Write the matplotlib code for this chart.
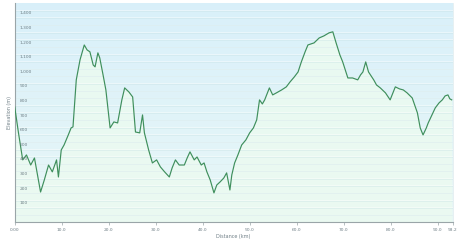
import numpy as np
import matplotlib
matplotlib.use("Agg")
import matplotlib.pyplot as plt
from matplotlib.transforms import blended_transform_factory

# -----------------------------------------------------------------
#   elevation profile (distance km, elevation m)
# -----------------------------------------------------------------
dist = [0.0, 0.8, 1.7, 2.5, 3.4, 4.2, 5.5, 6.3, 7.2, 8.0, 8.9, 9.3, 9.9, 10.5,
        11.4, 12.0, 12.4, 13.1, 13.9, 14.8, 15.4, 16.0, 16.7, 17.1, 17.7, 18.1,
        18.8, 19.4, 20.3, 21.1, 21.9, 22.8, 23.4, 24.3, 25.1, 25.7, 26.6, 27.2,
        27.6, 28.5, 29.3, 30.2, 31.0, 31.9, 32.9, 33.5, 34.2, 35.0, 36.1, 36.7,
        37.3, 38.2, 38.8, 39.7, 40.3, 40.9, 41.6, 42.4, 43.0, 43.7, 44.5, 45.1,
        45.8, 46.2, 46.8, 47.5, 48.3, 49.2, 50.0, 50.8, 51.5, 52.1, 52.7, 53.2,
        54.2, 54.9, 55.7, 56.8, 57.8, 58.6, 59.5, 60.3, 61.0, 61.8, 62.4, 63.7,
        64.8, 65.8, 66.9, 67.7, 68.4, 69.2, 69.8, 70.9, 71.9, 73.0, 73.6, 74.1,
        74.7, 75.3, 76.4, 77.0, 77.8, 78.9, 79.9, 81.0, 81.9, 82.7, 83.5, 84.6,
        85.7, 86.3, 86.9, 87.6, 88.0, 88.8, 89.5, 90.3, 91.0, 91.6, 92.2, 92.6,
        93.0]
elev = [788, 610, 425, 459, 390, 438, 205, 288, 390, 343, 425, 308, 493, 527,
        596, 644, 651, 973, 1110, 1212, 1178, 1165, 1075, 1062, 1158, 1123,
        1007, 904, 644, 685, 678, 836, 918, 890, 856, 616, 610, 733,
        610, 493, 404, 425, 377, 343, 308, 370, 425, 390, 390, 438,
        480, 425, 445, 390, 404, 343, 288, 199, 253, 274, 301, 336,
        219, 322, 404, 459, 527, 562, 610, 644, 699, 836, 808, 836,
        918, 870, 884, 904, 925, 959, 993, 1027, 1096, 1165, 1212, 1226,
        1260, 1274, 1295, 1302, 1226, 1144, 1096, 986, 986, 973, 1007, 1027,
        1096, 1027, 973, 938, 918, 884, 836, 925, 911, 904, 884, 849,
        747, 644, 596, 644, 678, 733, 781, 815, 836, 863, 870, 843,
        836]

y_ticks = [100, 200, 300, 400, 500, 600, 700, 800, 900, 1000, 1100, 1200, 1300, 1400]
x_ticks = [0, 10, 20, 30, 40, 50, 60, 70, 80, 90, 93.2]
x_tick_labels = ["0.00", "10.0", "20.0", "30.0", "40.0", "50.0", "60.0", "70.0",
                 "80.0", "90.0", "93.2"]

fig = plt.figure(figsize=(4.6, 2.41), dpi=100)
ax = fig.add_axes([0.032, 0.079, 0.952, 0.909])
x_max, y_max = 93.2, 1500
ax.set_xlim(0, x_max)
ax.set_ylim(0, y_max)

# background gradient: pale blue on top, mint at the bottom
grad = np.linspace(0, 1, 256).reshape(-1, 1)
top = np.array([0.85, 0.94, 0.98])
bot = np.array([0.91, 0.97, 0.97])
img = top * (1 - grad[..., None]) + bot * grad[..., None]
img = img.reshape(256, 1, 3)
ax.imshow(img, extent=[0, x_max, 0, y_max], aspect="auto", zorder=0)

ax.fill_between(dist, elev, 0, color="#ebfaf1", alpha=0.9, lw=0, zorder=1)

# grid lines (drawn over the fill, faint)
for v in np.arange(50, y_max, 50):
    ax.axhline(v, color="#ffffff", lw=0.6, alpha=0.5, zorder=2)
    ax.axhline(v - 4, color="#c4dfe2", lw=0.4, alpha=0.6, zorder=2)

ax.plot(dist, elev, color="#3f8f5c", lw=0.85, zorder=3)

# y labels drawn inside the plot
trans = blended_transform_factory(ax.transAxes, ax.transData)
for v in y_ticks:
    ax.text(0.012, v + 15, f"{v:,}", transform=trans, fontsize=3.2,
            color="#6f7f86", va="bottom", ha="left", zorder=4)
ax.set_yticks([])

ax.set_xticks(x_ticks)
ax.set_xticklabels(x_tick_labels, fontsize=3.2, color="#6f7f86")
ax.tick_params(axis="x", length=2, width=0.5, color="#9aa5a8", pad=2)

ax.set_xlabel("Distance (km)", fontsize=3.5, color="#6f7f86", labelpad=1.5)
ax.set_ylabel("Elevation (m)", fontsize=3.5, color="#6f7f86", labelpad=2)

ax.spines["top"].set_visible(False)
ax.spines["right"].set_color("#e2eef0")
ax.spines["right"].set_linewidth(0.6)
ax.spines["left"].set_color("#9aa5a8")
ax.spines["bottom"].set_color("#9aa5a8")
ax.spines["left"].set_linewidth(0.8)
ax.spines["bottom"].set_linewidth(0.8)

fig.savefig("out.png", dpi=100)
